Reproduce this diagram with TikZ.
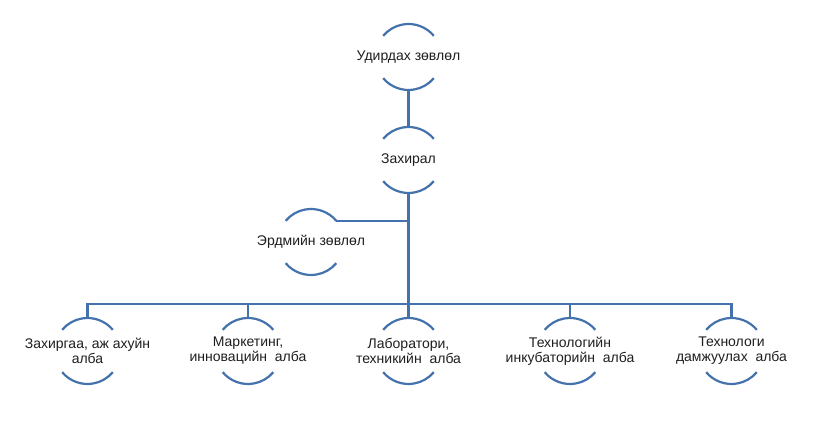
\documentclass[tikz,border=0pt]{standalone}
\usepackage{fontspec}
\setmainfont{Liberation Sans}
\usetikzlibrary{positioning}
\definecolor{orgblue}{RGB}{68,114,172}
\definecolor{orgtext}{RGB}{30,30,30}

\begin{document}
\begin{tikzpicture}[x=1pt, y=1pt,
  unittext/.style={align=center, text=orgtext, inner sep=0pt, font=\fontsize{14}{15}\selectfont},
  unit/.style={circle, minimum size=66pt, inner sep=0pt, outer sep=0pt, label={[unittext]center:{#1}}},
  orgline/.style={orgblue, line width=2.2pt}]
  \useasboundingbox (0,0) rectangle (825,441);
  \node[unit={Удирдах зөвлөл}] (board) at (408.5,384) {};
  \node[unit={Захирал}, below=37pt of board] (director) {};
  \node[unit={Эрдмийн зөвлөл}] (science) at (311,199) {};
  \node[unit={Лаборатори,\\техникийн \ алба}, below=125pt of director] (lab) {};
  \node[unit={Маркетинг,\\инновацийн \ алба}, left=94.5pt of lab] (market) {};
  \node[unit={Захиргаа, аж ахуйн\\алба}, left=94.5pt of market] (admin) {};
  \node[unit={Технологийн\\инкубаторийн \ алба}, right=95.5pt of lab] (incub) {};
  \node[unit={Технологи\\дамжуулах \ алба}, right=95.5pt of incub] (transfer) {};
  \foreach \n in {board,director,science,admin,market,lab,incub,transfer}
    \draw[orgline] (\n.40) arc (40:140:33pt) (\n.220) arc (220:320:33pt);
  \coordinate (bus) at (0,137);
  \draw[orgline] (board.south) -- (director.north);
  \draw[orgline] (director.south) -- (lab.north);
  \draw[orgline] (science.40) -- (science.40 -| director.south);
  \draw[orgline] (admin.north) -- (admin.north |- bus) -- (transfer.north |- bus) -- (transfer.north);
  \draw[orgline] (market.north) -- (market.north |- bus);
  \draw[orgline] (incub.north) -- (incub.north |- bus);
\end{tikzpicture}
\end{document}
